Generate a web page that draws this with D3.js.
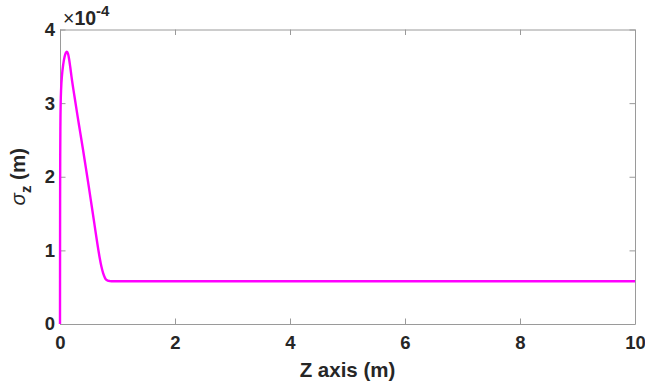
<!DOCTYPE html>
<html>
<head>
<meta charset="utf-8">
<script src="https://cdn.jsdelivr.net/npm/d3@7"></script>
<style>
  html, body { margin: 0; padding: 0; background: #fff; }
  svg { display: block; }
  text { font-family: "Liberation Sans", Arial, sans-serif; fill: #262626; }
</style>
</head>
<body>
<svg id="chart" width="645" height="388"></svg>
<script>
// Longitudinal beam size along the beamline (sigma_z in units of 1e-4 m)
const zPos   = [0, 0.001, 0.002, 0.004, 0.007, 0.012, 0.02, 0.035, 0.055, 0.08, 0.1, 0.12, 0.14, 0.16, 0.18, 0.2, 0.25, 0.3, 0.35, 0.4, 0.45, 0.5, 0.55, 0.6, 0.65, 0.69, 0.72, 0.75, 0.78, 0.8, 0.83, 0.87, 0.92, 1.0, 2, 4, 6, 8, 10];
const sigmaZ = [0, 1.0, 1.7, 2.3, 2.7, 3.0, 3.2, 3.38, 3.52, 3.63, 3.68, 3.70, 3.67, 3.59, 3.48, 3.36, 3.1, 2.85, 2.61, 2.37, 2.12, 1.87, 1.61, 1.35, 1.09, 0.9, 0.78, 0.69, 0.63, 0.605, 0.59, 0.583, 0.58, 0.58, 0.58, 0.58, 0.58, 0.58, 0.58];

const xTicks = [0, 2, 4, 6, 8, 10];
const yTicks = [0, 1, 2, 3, 4];

const svg = d3.select("#chart");
const m = { left: 60, right: 635, top: 29.5, bottom: 324 };

const x = d3.scaleLinear().domain([0, 10]).range([m.left, m.right]);
const y = d3.scaleLinear().domain([0, 4]).range([m.bottom, m.top]);

const axisColor = "#9a9a9a";
const tickLen = 5.5;
const tickFont = 18.5;

// Axes: inward ticks on all four sides, box around plot
function styleAxis(g) {
  g.select(".domain").attr("stroke", axisColor).attr("stroke-width", 1);
  g.selectAll(".tick line").attr("stroke", axisColor).attr("stroke-width", 1);
}
function styleLabels(g) {
  g.selectAll(".tick text")
    .attr("font-size", tickFont).attr("font-weight", "bold").attr("fill", "#262626")
    .attr("font-family", "Liberation Sans, Arial, sans-serif");
}

const gBottom = svg.append("g")
  .attr("transform", `translate(0,${m.bottom})`)
  .call(d3.axisBottom(x).tickValues(xTicks).tickSizeInner(-tickLen).tickSizeOuter(0).tickPadding(12).tickFormat(d3.format("d")));
styleAxis(gBottom);
styleLabels(gBottom);

const gTop = svg.append("g")
  .attr("transform", `translate(0,${m.top})`)
  .call(d3.axisTop(x).tickValues(xTicks).tickSizeInner(-tickLen).tickSizeOuter(0).tickFormat(""));
styleAxis(gTop);

const gLeft = svg.append("g")
  .attr("transform", `translate(${m.left},0)`)
  .call(d3.axisLeft(y).tickValues(yTicks).tickSizeInner(-tickLen).tickSizeOuter(0).tickPadding(5).tickFormat(d3.format("d")));
styleAxis(gLeft);
styleLabels(gLeft);

const gRight = svg.append("g")
  .attr("transform", `translate(${m.right},0)`)
  .call(d3.axisRight(y).tickValues(yTicks).tickSizeInner(-tickLen).tickSizeOuter(0).tickFormat(""));
styleAxis(gRight);

// Curve, drawn over the axes
const line = d3.line()
  .x((d, i) => x(zPos[i]))
  .y(d => y(d))
  .curve(d3.curveMonotoneX);

svg.append("path")
  .datum(sigmaZ)
  .attr("d", line)
  .attr("fill", "none")
  .attr("stroke", "#ff00ff")
  .attr("stroke-width", 2.4)
  .attr("stroke-linejoin", "round");

// Exponent marker above the y axis
const expo = svg.append("text")
  .attr("x", 63).attr("y", 25)
  .attr("font-size", 19.5);
expo.append("tspan").text("×");
expo.append("tspan").attr("font-weight", "bold").text("10");
expo.append("tspan").attr("font-weight", "bold").attr("font-size", 15).attr("dy", -9).text("-4");

// Axis labels
svg.append("text")
  .attr("x", (m.left + m.right) / 2).attr("y", 377)
  .attr("text-anchor", "middle")
  .attr("font-size", 20.5).attr("font-weight", "bold")
  .text("Z axis (m)");

const yl = svg.append("text")
  .attr("transform", `translate(25,${(m.top + m.bottom) / 2}) rotate(-90)`)
  .attr("text-anchor", "middle")
  .attr("font-size", 20.5).attr("font-weight", "bold");
yl.append("tspan").attr("font-style", "italic").attr("font-weight", "normal").text("σ");
yl.append("tspan").attr("font-size", 15).attr("dy", 6).text("z");
yl.append("tspan").attr("dy", -6).text(" (m)");
</script>
</body>
</html>
